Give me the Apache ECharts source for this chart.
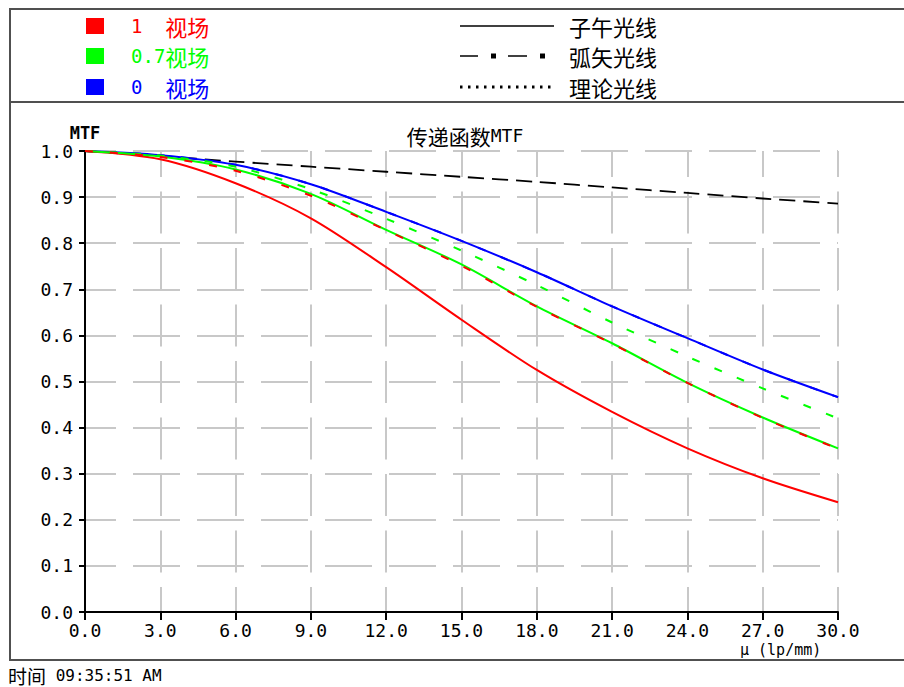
<!DOCTYPE html>
<html><head><meta charset="utf-8">
<script src="https://cdn.jsdelivr.net/npm/echarts@6/dist/echarts.min.js"></script>
<style>html,body{margin:0;padding:0;background:#fff}#c{width:904px;height:687px}</style>
</head><body><div id="c"></div>
<script>
// spatial frequency (lp/mm)
const freq = [0, 3, 6, 9, 12, 15, 18, 21, 24, 27, 30];
// MTF values
const field1T  = [1.000, 0.982, 0.930, 0.854, 0.748, 0.634, 0.525, 0.434, 0.355, 0.290, 0.238];
const field1S  = [1.000, 0.987, 0.957, 0.903, 0.828, 0.751, 0.662, 0.582, 0.497, 0.421, 0.354];
const field07T = [1.000, 0.988, 0.960, 0.907, 0.829, 0.754, 0.663, 0.583, 0.497, 0.422, 0.355];
const field07S = [1.000, 0.990, 0.966, 0.917, 0.853, 0.784, 0.709, 0.628, 0.554, 0.485, 0.420];
const field0T  = [1.000, 0.991, 0.970, 0.928, 0.868, 0.805, 0.737, 0.663, 0.594, 0.526, 0.466];
const field0S  = [1.000, 0.991, 0.970, 0.928, 0.868, 0.805, 0.737, 0.663, 0.594, 0.526, 0.466];
const theory   = [1.000, 0.989, 0.977, 0.966, 0.955, 0.944, 0.933, 0.921, 0.909, 0.897, 0.886];
const xTicks = {min: 0, max: 30, interval: 3};
const yTicks = {min: 0, max: 1, interval: 0.1};
const titleText = ['传递函数', 'MTF'];
const fieldLabels = [['1  ', '视场'], ['0.7', '视场'], ['0  ', '视场']];
const styleLabels = ['子午光线', '弧矢光线', '理论光线'];
const xName = 'μ (lp/mm)';
const yName = 'MTF';
const timeLabel = ['时间', ' 09:35:51 AM'];

const MONO = "'DejaVu Sans Mono', monospace";
const CJK = "'Noto Sans CJK SC', sans-serif";
const chart = echarts.init(document.getElementById('c'), null, {renderer: 'svg'});
const pairs = v => freq.map((f, i) => [f, v[i]]);
function ser(name, data, color, type, width) {
  return {name, type: 'line', data: pairs(data), smooth: 0.3, symbol: 'none',
    lineStyle: {color, width: width || 2, type}, silent: true};
}
const RED = '#ff0000', GREEN = '#00ff00', BLUE = '#0000ff';
const fieldColors = [RED, GREEN, BLUE];
const rowY = [26, 56, 87];

const graphics = [
  {type: 'rect', shape: {x: 10, y: 9, width: 920, height: 651}, style: {fill: 'none', stroke: '#505050', lineWidth: 2}},
  {type: 'line', shape: {x1: 10, y1: 102, x2: 904, y2: 102}, style: {stroke: '#505050', lineWidth: 2}},
];
fieldLabels.forEach((lab, i) => {
  graphics.push({type: 'rect', shape: {x: 86, y: rowY[i] - 8, width: 18, height: 16}, style: {fill: fieldColors[i]}});
  graphics.push({type: 'text', x: 131, y: rowY[i], style: {
    text: '{m|' + lab[0] + '}{c|' + lab[1] + '}', verticalAlign: 'middle',
    rich: {m: {fontFamily: MONO, fontSize: 19, fill: fieldColors[i]}, c: {fontFamily: CJK, fontSize: 22, fill: fieldColors[i]}}}});
});
// line-style legend samples
graphics.push({type: 'line', shape: {x1: 460, y1: rowY[0], x2: 554, y2: rowY[0]}, style: {stroke: '#000', lineWidth: 1.5}});
graphics.push({type: 'line', shape: {x1: 460, y1: rowY[1], x2: 478, y2: rowY[1]}, style: {stroke: '#000', lineWidth: 1.5}});
graphics.push({type: 'rect', shape: {x: 491, y: rowY[1] - 2.5, width: 5, height: 5}, style: {fill: '#000'}});
graphics.push({type: 'line', shape: {x1: 508, y1: rowY[1], x2: 527, y2: rowY[1]}, style: {stroke: '#000', lineWidth: 1.5}});
graphics.push({type: 'rect', shape: {x: 540, y: rowY[1] - 2.5, width: 5, height: 5}, style: {fill: '#000'}});
graphics.push({type: 'line', shape: {x1: 460, y1: rowY[2], x2: 554, y2: rowY[2]}, style: {stroke: '#000', lineWidth: 3, lineDash: [2.5, 5.5]}});
styleLabels.forEach((t, i) => {
  graphics.push({type: 'text', x: 569, y: rowY[i], style: {text: t, verticalAlign: 'middle', fontFamily: CJK, fontSize: 22, fill: '#000'}});
});
graphics.push({type: 'text', x: 740, y: 642, style: {text: xName, verticalAlign: 'top', fontFamily: MONO, fontSize: 15, fill: '#000'}});
graphics.push({type: 'text', x: 8, y: 675, style: {
  text: '{c|' + timeLabel[0] + '}{m|' + timeLabel[1] + '}', verticalAlign: 'middle',
  rich: {c: {fontFamily: CJK, fontSize: 19, fill: '#000'}, m: {fontFamily: MONO, fontSize: 16, fill: '#000'}}}});

const option = {
  animation: false,
  backgroundColor: '#fff',
  title: {text: '{c|' + titleText[0] + '}{m|' + titleText[1] + '}', left: 460, top: 120, textAlign: 'center',
    textStyle: {fontWeight: 'normal', rich: {c: {fontFamily: CJK, fontSize: 21, fontWeight: 'normal', color: '#000'}, m: {fontFamily: MONO, fontSize: 18, fontWeight: 'normal', color: '#000'}}}},
  grid: {left: 85, right: 66, top: 151, bottom: 75},
  xAxis: {type: 'value', min: xTicks.min, max: xTicks.max, interval: xTicks.interval,
    axisLine: {lineStyle: {color: '#000', width: 2}},
    axisTick: {length: 8, lineStyle: {color: '#000', width: 2}},
    axisLabel: {margin: 9, fontFamily: MONO, fontSize: 18, color: '#000', formatter: v => v.toFixed(1)},
    splitLine: {show: true, lineStyle: {color: '#c8c8c8', width: 2, type: [42, 14.5], dashOffset: 15.5}}},
  yAxis: {type: 'value', min: yTicks.min, max: yTicks.max, interval: yTicks.interval,
    name: yName, nameLocation: 'end', nameGap: 10,
    nameTextStyle: {fontFamily: MONO, fontSize: 17, fontWeight: 'bold', color: '#000', align: 'center'},
    axisLine: {show: true, lineStyle: {color: '#000', width: 2}},
    axisTick: {show: true, length: 6, lineStyle: {color: '#000', width: 2}},
    axisLabel: {margin: 12, fontFamily: MONO, fontSize: 18, color: '#000', formatter: v => v.toFixed(1)},
    splitLine: {show: true, lineStyle: {color: '#c8c8c8', width: 2, type: [47, 17], dashOffset: 16}}},
  series: [
    ser('理论', theory, '#000', [16, 8], 1.8),
    ser('0 弧矢', field0S, BLUE, [8, 16]),
    ser('0 子午', field0T, BLUE, 'solid'),
    ser('0.7 弧矢', field07S, GREEN, [8, 16]),
    ser('1 子午', field1T, RED, 'solid'),
    ser('0.7 子午', field07T, GREEN, 'solid'),
    ser('1 弧矢', field1S, RED, [8, 17]),
  ],
  graphic: graphics,
};
chart.setOption(option);
</script>
</body></html>
